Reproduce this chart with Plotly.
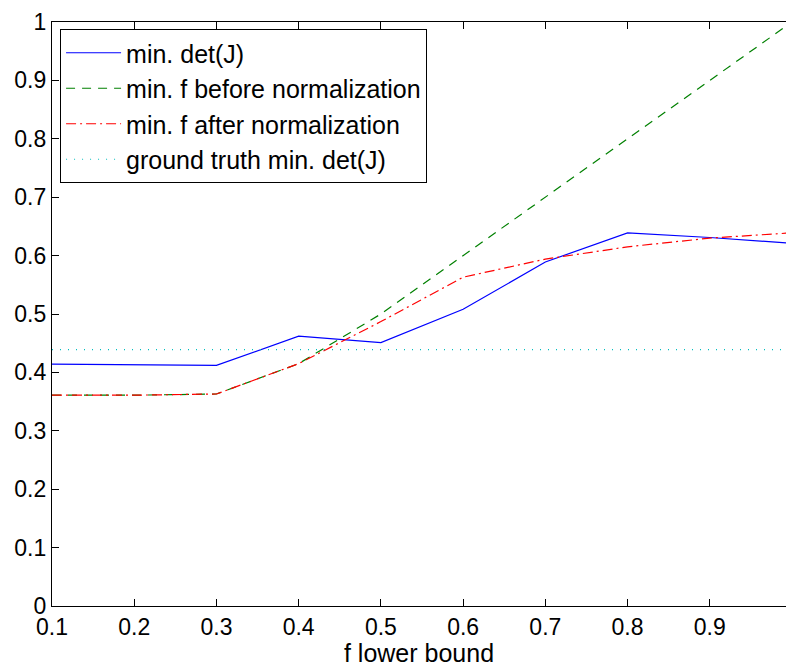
import plotly.graph_objects as go

# f lower bound values (sampled every 0.1)
f_lower = [0.1, 0.2, 0.3, 0.4, 0.5, 0.6, 0.7, 0.8, 0.9, 1.0]

# series values
min_detJ = [0.414, 0.413, 0.412, 0.462, 0.451, 0.508, 0.589, 0.639, 0.631, 0.621]
min_f_before = [0.361, 0.361, 0.363, 0.415, 0.500, 0.600, 0.700, 0.800, 0.900, 1.000]
min_f_after = [0.361, 0.361, 0.363, 0.415, 0.487, 0.563, 0.594, 0.615, 0.630, 0.639]
ground_truth = 0.439

x_ticks = [0.1, 0.2, 0.3, 0.4, 0.5, 0.6, 0.7, 0.8, 0.9]
x_tick_labels = ["0.1", "0.2", "0.3", "0.4", "0.5", "0.6", "0.7", "0.8", "0.9"]
y_ticks = [0, 0.1, 0.2, 0.3, 0.4, 0.5, 0.6, 0.7, 0.8, 0.9, 1.0]
y_tick_labels = ["0", "0.1", "0.2", "0.3", "0.4", "0.5", "0.6", "0.7", "0.8", "0.9", "1"]

FONT = "Liberation Sans, Arial, Helvetica, sans-serif"

fig = go.Figure()
fig.add_trace(go.Scatter(
    x=f_lower, y=min_detJ, mode="lines", name="min. det(J)",
    line=dict(color="rgb(0,0,255)", width=1.2),
))
fig.add_trace(go.Scatter(
    x=f_lower, y=min_f_before, mode="lines", name="min. f before normalization",
    line=dict(color="rgb(0,128,0)", width=1.2, dash="9px,7px"),
))
fig.add_trace(go.Scatter(
    x=f_lower, y=min_f_after, mode="lines", name="min. f after normalization",
    line=dict(color="rgb(255,0,0)", width=1.2, dash="10px,4px,2px,4px"),
))
fig.add_trace(go.Scatter(
    x=[f_lower[0], f_lower[-1]], y=[ground_truth, ground_truth], mode="lines",
    name="ground truth min. det(J)",
    line=dict(color="rgb(0,191,191)", width=1.2, dash="1px,7px"),
))

fig.update_layout(
    width=786, height=667,
    margin=dict(l=52, r=0, t=22, b=61),
    paper_bgcolor="white", plot_bgcolor="white",
    font=dict(family=FONT, size=23, color="black"),
    showlegend=True,
    legend=dict(
        x=0.011, y=0.988, xanchor="left", yanchor="top",
        bgcolor="white", bordercolor="black", borderwidth=1,
        font=dict(family=FONT, size=25, color="black"),
        itemwidth=55, tracegroupgap=0,
    ),
)

fig.update_xaxes(
    range=[0.1, 0.9927],
    tickvals=x_ticks, ticktext=x_tick_labels,
    ticks="inside", ticklen=7, tickwidth=1, tickcolor="black",
    showline=True, linecolor="black", linewidth=1.2, mirror="ticks",
    showgrid=False, zeroline=False,
    tickfont=dict(family=FONT, size=23, color="black"),
    title=dict(text="f lower bound", standoff=2,
               font=dict(family=FONT, size=25, color="black")),
)
fig.update_yaxes(
    range=[0, 1],
    tickvals=y_ticks, ticktext=y_tick_labels,
    ticks="inside", ticklen=7, tickwidth=1, tickcolor="black",
    showline=True, linecolor="black", linewidth=1.2,
    showgrid=False, zeroline=False,
    tickfont=dict(family=FONT, size=23, color="black"),
)

fig.write_html("out.html")
